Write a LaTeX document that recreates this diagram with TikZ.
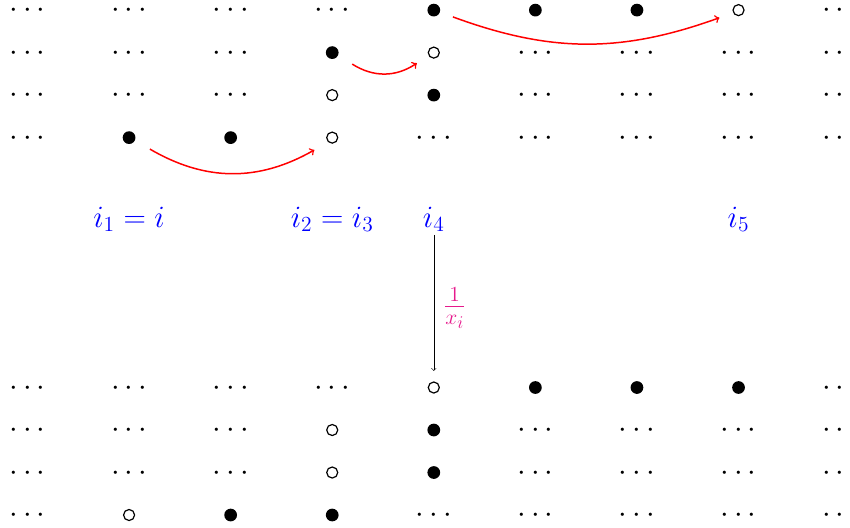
\documentclass[tikz,border=0pt]{standalone}
\usetikzlibrary{calc}
\definecolor{fracpink}{HTML}{E6198C}

\begin{document}
\begin{tikzpicture}[
  x=2.39cm, y=1cm,
  ell/.style={node contents={$\cdots$}, font=\huge, inner sep=0pt,
              text height=6.6pt, text depth=0pt, anchor=base, yshift=-5.18pt},
  blk/.style={node contents={}, circle, fill=black, inner sep=0pt,
              minimum size=0.30cm},
  wht/.style={node contents={}, circle, draw=black, line width=0.8pt,
              inner sep=0pt, minimum size=0.26cm},
  lab/.style={anchor=base, font=\huge, text=blue, inner sep=0.2em},
  hop/.style={->, line width=1pt, red},
]

\useasboundingbox (-0.647cm,-0.282cm) rectangle (19.353cm,12.118cm);

% ---------------------------------------------------------------- upper rows
\foreach \y/\pat [count=\r] in {
    11.88/{ell,ell,ell,ell,blk,blk,blk,wht,ell},
    10.88/{ell,ell,ell,blk,wht,ell,ell,ell,ell},
     9.88/{ell,ell,ell,wht,blk,ell,ell,ell,ell},
     8.88/{ell,blk,blk,wht,ell,ell,ell,ell,ell}}
  \foreach \s [count=\c from 0] in \pat
    \node (t\r\c) at (\c,\y) [\s];

% ---------------------------------------------------------------- lower rows
\foreach \y/\pat [count=\r] in {
    3/{ell,ell,ell,ell,wht,blk,blk,blk,ell},
    2/{ell,ell,ell,wht,blk,ell,ell,ell,ell},
    1/{ell,ell,ell,wht,blk,ell,ell,ell,ell},
    0/{ell,wht,blk,blk,ell,ell,ell,ell,ell}}
  \foreach \s [count=\c from 0] in \pat
    \node (b\r\c) at (\c,\y) [\s];

% ---------------------------------------------------------------- indices
\node[lab] (l1) at (1,6.776) {$i_1 = i$};
\node[lab] (l3) at (3,6.776) {$i_2 = i_3$};
\node[lab] (l4) at (4,6.776) {$i_4$};
\node[lab] (l5) at (7,6.776) {$i_5$};

% ---------------------------------------------------------------- hops
\draw[hop] ($(t41)+(0.49cm,-0.27cm)$) to[bend right=30] ($(t43)+(-0.42cm,-0.29cm)$);
\draw[hop] ($(t23)+(0.47cm,-0.27cm)$) to[bend right=33] ($(t24)+(-0.40cm,-0.25cm)$);
\draw[hop] ($(t14)+(0.45cm,-0.16cm)$) to[bend right=20] ($(t17)+(-0.45cm,-0.18cm)$);

\draw[->, shorten >=7pt] (l4) -- (b14)
  node[midway, right, xshift=3pt, text=fracpink, font=\huge] {$\frac{1}{x_i}$};

\end{tikzpicture}
\end{document}
